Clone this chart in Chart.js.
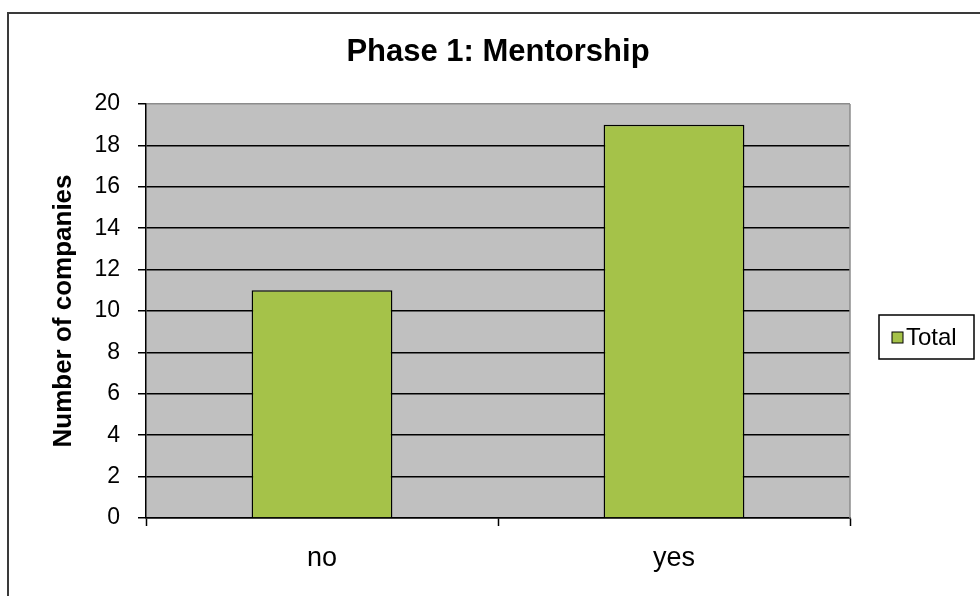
<!DOCTYPE html>
<html>
<head>
<meta charset="utf-8">
<script src="https://cdn.jsdelivr.net/npm/chart.js@4.4.1/dist/chart.umd.min.js"></script>
<style>
  html, body { margin: 0; padding: 0; background: #fff; }
  #wrap { width: 980px; height: 596px; position: relative; }
</style>
</head>
<body>
<div id="wrap"><canvas id="mentorChart" width="980" height="596"></canvas></div>
<script>
// chart data
const categories = ['no', 'yes'];
const totals = [11, 19];
const seriesName = 'Total';
const yTicks = [0, 2, 4, 6, 8, 10, 12, 14, 16, 18, 20];
const chartTitle = 'Phase 1: Mentorship';
const yTitle = 'Number of companies';

const barGreen = '#a5c249';
const plotGray = '#c0c0c0';

// gray plot area, outer frame, title and the boxed legend (excel look)
const excelLook = {
    id: 'excelLook',
    beforeDraw(chart) {
        const ctx = chart.ctx;
        const a = chart.chartArea;
        ctx.save();
        ctx.fillStyle = plotGray;
        ctx.fillRect(a.left, a.top, a.right - a.left, a.bottom - a.top);
        // outer frame (only top and left visible)
        ctx.strokeStyle = '#3a3a3a';
        ctx.lineWidth = 2;
        ctx.beginPath();
        ctx.moveTo(8, chart.height);
        ctx.lineTo(8, 13);
        ctx.lineTo(chart.width, 13);
        ctx.stroke();
        ctx.restore();
    },
    afterDraw(chart) {
        const ctx = chart.ctx;
        const a = chart.chartArea;
        ctx.save();
        // right border of plot area
        ctx.strokeStyle = '#8c8c8c';
        ctx.lineWidth = 1.5;
        ctx.beginPath();
        ctx.moveTo(a.right, a.top);
        ctx.lineTo(a.right, a.bottom);
        ctx.stroke();

        // title
        ctx.fillStyle = '#000';
        ctx.font = 'bold 31px "Liberation Sans", Arial, sans-serif';
        ctx.textAlign = 'center';
        ctx.textBaseline = 'middle';
        ctx.fillText(chartTitle, (a.left + a.right) / 2, 52);

        // legend
        const ds = chart.data.datasets[0];
        const lx = a.right + 29, ly = 315, lw = 95, lh = 44;
        ctx.fillStyle = '#fff';
        ctx.fillRect(lx, ly, lw, lh);
        ctx.strokeStyle = '#000';
        ctx.lineWidth = 1.5;
        ctx.strokeRect(lx, ly, lw, lh);
        ctx.fillStyle = ds.backgroundColor;
        ctx.fillRect(lx + 13, ly + 17, 11, 11);
        ctx.lineWidth = 1;
        ctx.strokeRect(lx + 13, ly + 17, 11, 11);
        ctx.fillStyle = '#000';
        ctx.font = '24px "Liberation Sans", Arial, sans-serif';
        ctx.textAlign = 'left';
        ctx.textBaseline = 'middle';
        ctx.fillText(ds.label, lx + 27, ly + lh / 2 + 1);
        ctx.restore();
    }
};

function renderMentorChart() {
    const ctx = document.getElementById('mentorChart').getContext('2d');
    new Chart(ctx, {
        type: 'bar',
        data: {
            labels: categories,
            datasets: [{
                label: seriesName,
                data: totals,
                backgroundColor: barGreen,
                borderColor: '#000',
                borderWidth: 1.5,
                barPercentage: 0.4,
                categoryPercentage: 1.0
            }]
        },
        options: {
            responsive: false,
            animation: false,
            layout: { padding: { top: 104, right: 130, bottom: 0, left: 0 } },
            plugins: {
                legend: { display: false },
                title: { display: false },
                tooltip: { enabled: false }
            },
            scales: {
                x: {
                    offset: true,
                    border: { display: true, color: '#000', width: 1.5 },
                    grid: {
                        offset: true,
                        drawOnChartArea: false,
                        drawTicks: true,
                        tickLength: 8,
                        tickColor: '#000',
                        tickWidth: 1.5
                    },
                    ticks: {
                        color: '#000',
                        padding: 16,
                        font: { family: '"Liberation Sans", Arial, sans-serif', size: 27 }
                    },
                    afterFit(scale) { scale.height = 78; }
                },
                y: {
                    min: 0,
                    max: 20,
                    border: { display: true, color: '#000', width: 1.5 },
                    grid: {
                        color: c => (c.tick && c.tick.value === yTicks[yTicks.length - 1]) ? '#8c8c8c' : '#000',
                        lineWidth: 1.5,
                        tickLength: 8,
                        tickColor: '#000',
                        tickWidth: 1.5
                    },
                    afterBuildTicks(scale) {
                        scale.ticks = yTicks.map(v => ({ value: v }));
                    },
                    ticks: {
                        color: '#000',
                        padding: 18,
                        font: { family: '"Liberation Sans", Arial, sans-serif', size: 23 }
                    },
                    title: {
                        display: true,
                        text: yTitle,
                        color: '#000',
                        padding: { top: 48, bottom: 0 },
                        font: { family: '"Liberation Sans", Arial, sans-serif', size: 26, weight: 'bold' }
                    },
                    afterFit(scale) { scale.width = 146; }
                }
            }
        },
        plugins: [excelLook]
    });
}

document.addEventListener("DOMContentLoaded", function() {
    renderMentorChart();
});
</script>
</body>
</html>
